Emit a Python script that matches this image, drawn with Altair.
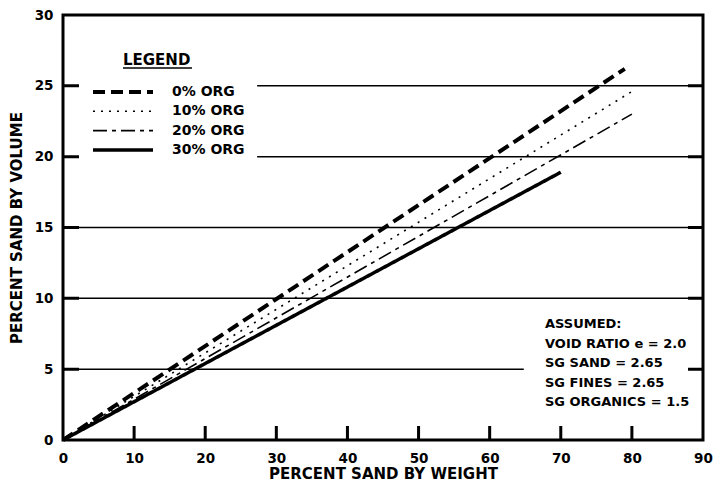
import altair as alt
import pandas as pd

# ---- data ----
org_levels = ["0% ORG", "10% ORG", "20% ORG", "30% ORG"]
start_weight = [0, 0, 0, 0]
start_volume = [0, 0, 0, 0]
end_weight = [79, 80, 80, 70]
end_volume = [26.2, 24.6, 23.0, 18.9]

x_ticks = [10, 20, 30, 40, 50, 60, 70, 80]
y_ticks = [5, 10, 15, 20, 25]
x_labels = [0, 10, 20, 30, 40, 50, 60, 70, 80, 90]
y_labels = [0, 5, 10, 15, 20, 25, 30]

grid_y = [5, 10, 15, 20, 25]
grid_x0 = [0, 0, 0, 27.3, 27.3]
grid_x1 = [64.8, 90, 90, 90, 90]

assumed_lines = ["ASSUMED:", "VOID RATIO e = 2.0", "SG SAND = 2.65",
                 "SG FINES = 2.65", "SG ORGANICS = 1.5"]

# ---- styles ----
FONT = "DejaVu Sans"
dash_range = [[12, 6], [2, 6], [14, 5, 4, 5], [1, 0]]
width_range = [4, 1.6, 1.6, 3.5]
style_domain = org_levels + ["tick"]
style_dash = dash_range + [[1, 0]]
style_width = width_range + [3]

W, H = 640, 425
XMAX, YMAX = 90, 30
tick_len_x = 14 * YMAX / H      # bottom ticks, in y units
tick_len_yl = 16 * XMAX / W     # left ticks, in x units
tick_len_yr = 15 * XMAX / W     # right ticks, in x units

rows = []
for s, w0, v0, w1, v1 in zip(org_levels, start_weight, start_volume, end_weight, end_volume):
    rows.append({"id": s, "style": s, "weight": w0, "volume": v0})
    rows.append({"id": s, "style": s, "weight": w1, "volume": v1})
for t in x_ticks:
    rows.append({"id": f"bx{t}", "style": "tick", "weight": t, "volume": 0})
    rows.append({"id": f"bx{t}", "style": "tick", "weight": t, "volume": tick_len_x})
for t in y_ticks:
    rows.append({"id": f"ly{t}", "style": "tick", "weight": 0, "volume": t})
    rows.append({"id": f"ly{t}", "style": "tick", "weight": tick_len_yl, "volume": t})
    rows.append({"id": f"ry{t}", "style": "tick", "weight": XMAX - tick_len_yr, "volume": t})
    rows.append({"id": f"ry{t}", "style": "tick", "weight": XMAX, "volume": t})
lines_df = pd.DataFrame(rows)

xscale = alt.Scale(domain=[0, XMAX], nice=False, zero=False)
yscale = alt.Scale(domain=[0, YMAX], nice=False, zero=False)
xaxis = alt.Axis(title="PERCENT SAND BY WEIGHT", values=x_labels,
                 labelFlush=False, labelPadding=11, titlePadding=2)
yaxis = alt.Axis(title="PERCENT SAND BY VOLUME", values=y_labels,
                 labelFlush=False, labelPadding=10, titlePadding=10)

grid_df = pd.DataFrame({"gy": grid_y, "gx0": grid_x0, "gx1": grid_x1})
grid = alt.Chart(grid_df).mark_rule(color="black", strokeWidth=1.5).encode(
    x=alt.X("gx0:Q", scale=xscale, axis=xaxis),
    x2="gx1:Q",
    y=alt.Y("gy:Q", scale=yscale, axis=yaxis),
)

lines = alt.Chart(lines_df).mark_line(color="black", strokeCap="butt").encode(
    x=alt.X("weight:Q", scale=xscale, axis=xaxis),
    y=alt.Y("volume:Q", scale=yscale, axis=yaxis),
    strokeDash=alt.StrokeDash("style:N", scale=alt.Scale(domain=style_domain, range=style_dash), legend=None),
    strokeWidth=alt.StrokeWidth("style:N", scale=alt.Scale(type="ordinal", domain=style_domain, range=style_width), legend=None),
    detail="id:N",
)

one = pd.DataFrame({"k": [0]})
legend_layers = []
legend_layers.append(alt.Chart(one).mark_text(
    text="LEGEND", font=FONT, fontWeight="bold", fontSize=15, align="left",
    baseline="middle", color="black").encode(x=alt.value(60), y=alt.value(45)))
legend_layers.append(alt.Chart(one).mark_rule(color="black", strokeWidth=1.5).encode(
    x=alt.value(60), x2=alt.value(129), y=alt.value(53)))
for i, s in enumerate(org_levels):
    yy = 77 + 19.3 * i
    legend_layers.append(alt.Chart(one).mark_rule(
        color="black", strokeDash=dash_range[i], strokeWidth=width_range[i],
        strokeCap="butt").encode(x=alt.value(30), x2=alt.value(90), y=alt.value(yy)))
    legend_layers.append(alt.Chart(one).mark_text(
        text=s, font=FONT, fontWeight="bold", fontSize=14, align="left",
        baseline="middle", color="black").encode(x=alt.value(109), y=alt.value(yy)))

note = alt.Chart(one).mark_text(
    text=assumed_lines, font=FONT, fontWeight="bold", fontSize=13, align="left",
    baseline="middle", lineHeight=19.5, color="black").encode(
    x=alt.value(482), y=alt.value(309))

chart = alt.layer(grid, lines, note, *legend_layers).properties(
    width=W, height=H,
    autosize=alt.AutoSizeParams(type="none"),
    padding={"left": 55, "top": 7, "right": 11, "bottom": 47},
).configure_view(
    stroke="black", strokeWidth=3
).configure_axis(
    domain=False, grid=False, ticks=False, tickSize=0,
    labelFont=FONT, labelFontWeight="bold", labelFontSize=13.5, labelColor="black",
    titleFont=FONT, titleFontWeight="bold", titleFontSize=15, titleColor="black",
)

chart.save("out.html", embed_options={"renderer": "svg", "actions": False})
